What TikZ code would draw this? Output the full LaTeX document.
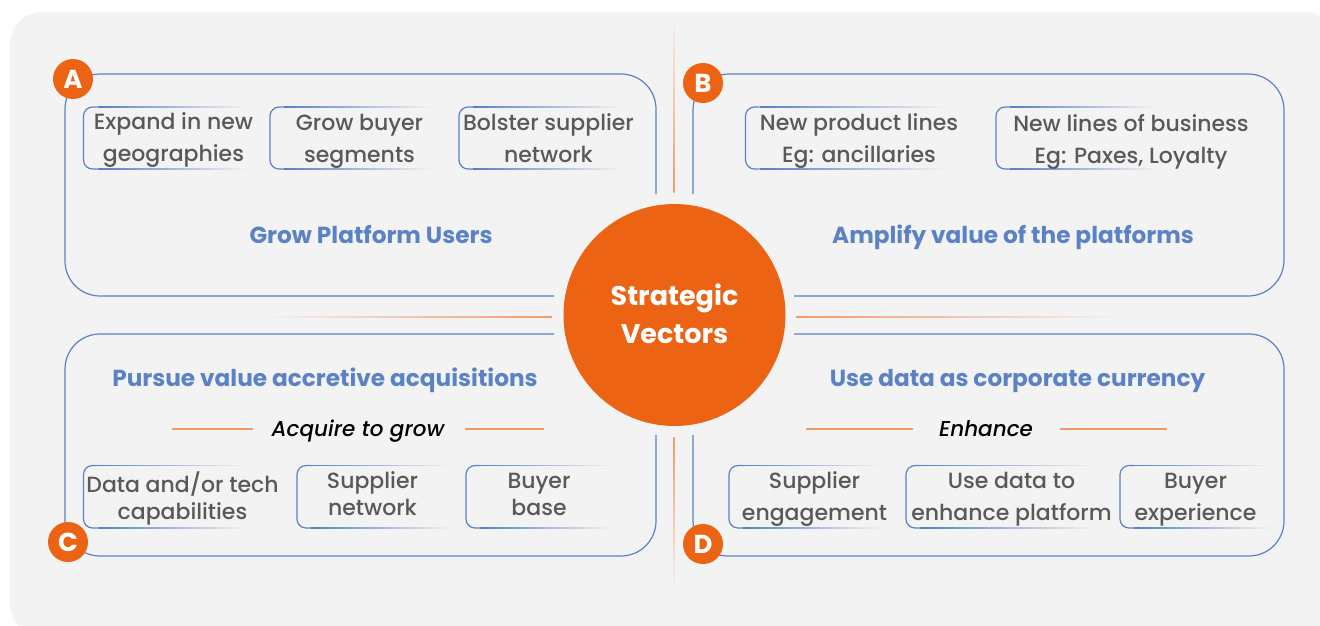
\documentclass[tikz,border=0pt]{standalone}
\usepackage{fontspec}
\setmainfont{Poppins}
\newfontfamily\medfont{Poppins Medium}
\usetikzlibrary{calc}
\definecolor{panel}{HTML}{F3F3F3}
\definecolor{linkblue}{HTML}{5B80C4}
\definecolor{titleblue}{HTML}{5C82C6}
\definecolor{brand}{HTML}{EC6313}
\definecolor{softorange}{HTML}{F29A66}
\definecolor{ink}{HTML}{595959}
\newcommand{\st}{\vphantom{Apg}}
\tikzset{
  bigbox/.style={draw=linkblue,line width=1.2pt},
  badge/.style={circle,fill=brand,text=white,minimum size=40pt,inner sep=0pt,font=\fontsize{26}{26}\selectfont\bfseries},
  item/.style={inner sep=0pt,align=center,text=ink,yshift=-2.5pt},
  ls/.style={font=\fontsize{22}{#1}\selectfont\medfont},
  vectitle/.style={inner sep=0pt,text=titleblue,text height=16pt,text depth=5pt,yshift=-3pt,font=\fontsize{23.2}{24}\selectfont\bfseries},
  subtitle/.style={inner sep=0pt,text=black,text height=16pt,text depth=5pt,yshift=-2.5pt,font=\fontsize{21.5}{24}\selectfont\medfont\itshape},
  rule/.style={draw=softorange,line width=1.2pt}
}
% horizontal line fading from blue to the panel colour: x0, x1, y
\newcommand{\fadeline}[3]{%
  \foreach \i in {0,...,29}{%
    \pgfmathsetmacro{\pa}{(#1)+((#2)-(#1))*\i/30}%
    \pgfmathsetmacro{\pb}{(#1)+((#2)-(#1))*(\i+1)/30+0.3}%
    \pgfmathsetmacro{\pc}{100-\i*100/29}%
    \draw[draw=linkblue!\pc!panel,line width=1.2pt] (\pa,#3) -- (\pb,#3);
  }%
}
% item frame: left side solid, top and bottom fading out to the right
\newcommand{\itemframe}[5]{%
  \coordinate (#1-tl) at (#2,#3);
  \coordinate (#1-bl) at (#2,#4);
  \fadeline{#2+14}{#5}{#3}
  \fadeline{#2+14}{#5}{#4}
  \draw[linkblue,line width=1.2pt,rounded corners=9pt] ($(#1-tl)+(14.2,0)$) -- (#1-tl) -- (#1-bl) -- ($(#1-bl)+(14.2,0)$);
}
\begin{document}
\begin{tikzpicture}[x=1pt,y=-1pt]
\useasboundingbox (0,0) rectangle (1320,625);
\fill[panel,rounded corners=32pt] (10,12) rectangle (1336,636);

% orange rules
\shade[top color=panel,bottom color=softorange] (673.4,15) rectangle (674.6,192);
\shade[top color=softorange,bottom color=panel] (673.4,437) rectangle (674.6,592);
\shade[left color=panel,right color=softorange] (262,316.4) rectangle (552,317.6);
\shade[left color=softorange,right color=panel] (796,316.4) rectangle (1125,317.6);

% quadrant frames
\draw[bigbox,rounded corners=35pt] (656,194) -- (656,74) -- (65,74) -- (65,296) -- (554,296);
\draw[bigbox,rounded corners=36pt] (693,194) -- (693,74) -- (1284,74) -- (1284,296) -- (794,296);
\draw[bigbox,rounded corners=35pt] (554,334) -- (65,334) -- (65,556) -- (656,556) -- (656,435);
\draw[bigbox,rounded corners=35pt] (794,334) -- (1284,334) -- (1284,556) -- (693,556) -- (693,435);

% item frames
\itemframe{a1}{83.5}{107}{169}{250}
\itemframe{a2}{270}{107}{169}{435}
\itemframe{a3}{459}{107}{169}{625}
\itemframe{b1}{745.5}{107}{169}{950}
\itemframe{b2}{996}{107}{169}{1160}
\itemframe{c1}{83.5}{465.5}{528}{250}
\itemframe{c2}{297}{465.5}{528}{455}
\itemframe{c3}{466}{465.5}{528}{615}
\itemframe{d1}{729}{465.5}{528}{885}
\itemframe{d2}{906}{465.5}{528}{1100}
\itemframe{d3}{1120}{465.5}{528}{1275}

% item texts
\node[item,ls=32] (ta1) at (173.5,138) {\st Expand in new\\\st geographies};
\node[item,ls=32] (ta2) at (359.5,139) {\st Grow buyer\\\st segments};
\node[item,ls=32] (ta3) at (548.5,139) {\st Bolster supplier\\\st network};
\node[item,ls=32] (tb1) at (859,139) {\st New product lines\\\st Eg: ancillaries};
\node[item,ls=32] (tb2) at (1131,139) {\st New lines of business\\\st Eg: Paxes, Loyalty};
\node[item,ls=27] (tc1) at (182.5,496) {\st Data and/or tech\\\st capabilities};
\node[item,ls=27] (tc2) at (372.5,494.5) {\st Supplier\\\st network};
\node[item,ls=27] (tc3) at (539,494.5) {\st Buyer\\\st base};
\node[item,ls=32] (td1) at (814.5,497) {\st Supplier\\\st engagement};
\node[item,ls=32] (td2) at (1011.5,497) {\st Use data to\\\st enhance platform};
\node[item,ls=32] (td3) at (1195.5,497) {\st Buyer\\\st experience};

% titles
\node[vectitle] (ta) at (371,235) {Grow Platform Users};
\node[vectitle] (tb) at (1013,235) {Amplify value of the platforms};
\node[vectitle] (tc) at (325,378) {Pursue value accretive acquisitions};
\node[vectitle] (td) at (1017.5,378) {Use data as corporate currency};
\node[subtitle] (sc) at (358,428) {Acquire to grow};
\node[subtitle] (sd) at (986,428) {Enhance};
\draw[rule] (172,429) -- (253,429);
\draw[rule] (465,429) -- (544,429);
\draw[rule] (806,429) -- (913,429);
\draw[rule] (1060,429) -- (1167,429);

% centre and badges
\node[circle,fill=brand,minimum size=222pt,inner sep=0pt] (hub) at (674.5,315) {};
\node[inner sep=0pt,text=white,align=center,yshift=-2.5pt,font=\fontsize{27}{38}\selectfont\bfseries] (hubtext) at (hub.center) {\st Strategic\\\st Vectors};
\node[badge] (A) at (73,79) {A};
\node[badge] (B) at (703,83) {B};
\node[badge] (C) at (68,542) {C};
\node[badge] (D) at (703,544) {D};
\end{tikzpicture}
\end{document}
